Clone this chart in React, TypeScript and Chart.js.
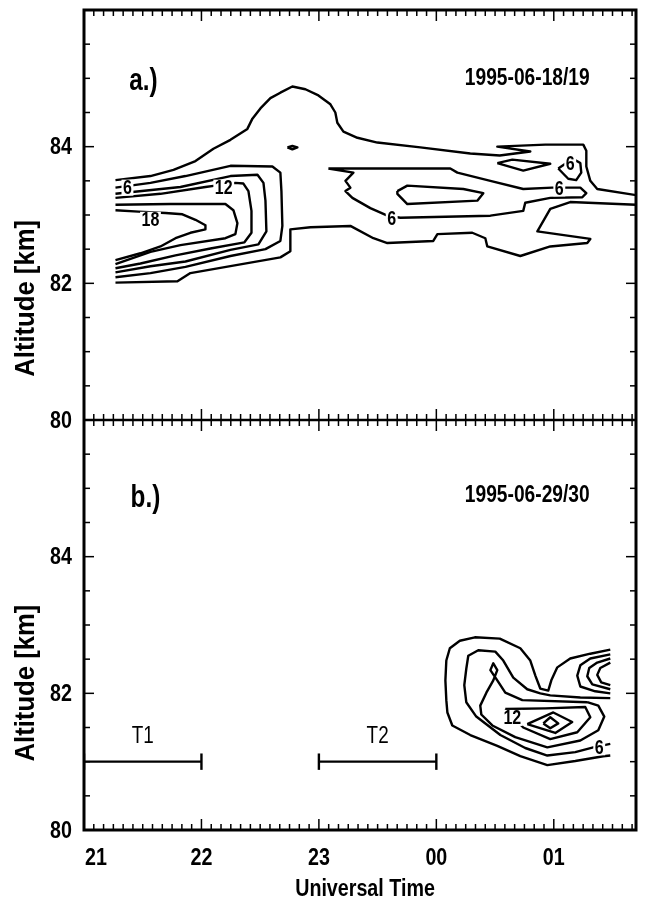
import React, { useEffect, useRef } from 'react';
import { Chart, registerables } from 'chart.js';

Chart.register(...registerables);

type P = [number, number];
type Lbl = [string, number, number];

// ---- axes ----
const X_MIN = 21;
const X_MAX = 25.7;
const X_TICK_VALUES = [21, 22, 23, 24, 25];
const X_TICK_LABELS = ['21', '22', '23', '00', '01'];
const ALT_MIN = 80;
const ALT_MAX = 86;
const ALT_LABELS = [80, 82, 84];

// ---- panel a (1995-06-18/19) contour lines [UT hour, altitude km] ----
const A_OUTER_TOP: P[] = [[21.268,83.51],[21.566,83.57],[21.762,83.66],[21.949,83.79],[22.102,83.97],[22.247,84.10],[22.391,84.26],[22.434,84.41],[22.502,84.56],[22.587,84.71],[22.672,84.79],[22.774,84.88],[22.885,84.84],[22.996,84.75],[23.098,84.62],[23.140,84.50],[23.157,84.35],[23.209,84.22],[23.328,84.13],[23.498,84.06],[23.864,83.99],[24.289,83.90],[24.540,83.87],[24.800,83.93],[24.519,84.00],[24.928,84.03],[25.251,84.03],[25.277,83.94],[25.277,83.71],[25.311,83.50],[25.370,83.38],[25.702,83.29]];
const A_OUTER_BOTTOM: P[] = [[21.268,82.01],[21.796,82.03],[21.906,82.15],[22.672,82.38],[22.757,82.47],[22.757,82.79],[22.928,82.82],[23.268,82.84],[23.464,82.66],[23.583,82.59],[23.974,82.62],[24.009,82.72],[24.306,82.74],[24.417,82.66],[24.434,82.54],[24.715,82.40],[24.970,82.54],[25.285,82.59],[25.311,82.65],[24.860,82.76],[24.970,83.09],[25.140,83.19],[25.702,83.15]];
const A_C6: P[] = [[21.268,83.40],[21.566,83.47],[21.864,83.57],[22.247,83.72],[22.604,83.71],[22.672,83.62],[22.681,83.35],[22.689,82.84],[22.672,82.62],[22.545,82.50],[22.247,82.40],[21.864,82.24],[21.566,82.15],[21.268,82.09]];
const A_C9: P[] = [[21.268,83.31],[21.821,83.41],[22.247,83.57],[22.477,83.59],[22.528,83.47],[22.545,83.21],[22.553,82.76],[22.485,82.57],[22.247,82.49],[21.864,82.32],[21.566,82.25],[21.268,82.16]];
const A_C12: P[] = [[21.268,83.25],[21.651,83.31],[22.034,83.41],[22.119,83.43],[22.289,83.47],[22.357,83.46],[22.400,83.35],[22.426,83.06],[22.426,82.74],[22.366,82.60],[22.077,82.51],[21.779,82.41],[21.481,82.29],[21.268,82.22]];
const A_C15: P[] = [[21.268,83.15],[21.736,83.16],[22.204,83.16],[22.272,83.07],[22.306,82.88],[22.289,82.72],[22.204,82.66],[21.821,82.56],[21.566,82.46],[21.268,82.28]];
const A_C18: P[] = [[21.268,83.07],[21.464,83.05],[21.694,83.03],[21.838,83.01],[21.949,82.93],[22.034,82.85],[22.034,82.79],[21.906,82.74],[21.779,82.66],[21.651,82.54],[21.481,82.44],[21.268,82.34]];
const A_MID6: P[] = [[23.081,83.68],[24.119,83.68],[24.179,83.62],[24.460,83.50],[24.740,83.38],[24.987,83.40],[25.226,83.40],[25.277,83.32],[25.243,83.26],[24.970,83.25],[24.757,83.18],[24.740,83.06],[24.460,82.99],[23.694,82.96],[23.583,82.99],[23.438,83.10],[23.285,83.25],[23.226,83.35],[23.268,83.40],[23.226,83.50],[23.294,83.62],[23.081,83.68]];
const A_OVAL: P[] = [[23.668,83.35],[23.753,83.43],[24.230,83.38],[24.400,83.32],[24.349,83.21],[23.753,83.16],[23.668,83.31],[23.668,83.35]];
const A_HUMP: P[] = [[22.732,83.99],[22.774,84.01],[22.817,83.99],[22.774,83.96],[22.732,83.99]];
const A_ZDIAMOND: P[] = [[24.519,83.76],[24.740,83.65],[24.970,83.75],[24.647,83.81],[24.519,83.76]];
const A_SMALL6: P[] = [[25.038,83.68],[25.098,83.75],[25.174,83.81],[25.226,83.76],[25.234,83.62],[25.191,83.51],[25.123,83.53],[25.038,83.68]];
const A_LABELS: Lbl[] = [['6',21.370,83.40],['12',22.19,83.40],['18',21.566,82.93],['6',23.62,82.95],['6',25.14,83.76],['6',25.047,83.39]];

// ---- panel b (1995-06-29/30) ----
const B_OUTER: P[] = [[25.481,82.64],[25.311,82.58],[25.140,82.51],[25.030,82.38],[24.979,82.19],[24.953,82.04],[24.885,82.07],[24.843,82.26],[24.800,82.48],[24.715,82.66],[24.540,82.80],[24.328,82.82],[24.200,82.77],[24.115,82.66],[24.085,82.48],[24.077,82.19],[24.085,81.90],[24.094,81.72],[24.136,81.53],[24.289,81.39],[24.519,81.23],[24.715,81.08],[24.945,80.95],[25.183,81.01],[25.421,81.08],[25.481,81.09]];
const B_R1: P[] = [[25.481,82.57],[25.311,82.51],[25.226,82.41],[25.200,82.26],[25.226,82.10],[25.353,82.03],[25.481,82.00]];
const B_R2: P[] = [[25.481,82.51],[25.370,82.45],[25.302,82.37],[25.285,82.25],[25.328,82.13],[25.481,82.06]];
const B_R3: P[] = [[25.481,82.45],[25.396,82.37],[25.370,82.27],[25.404,82.16],[25.481,82.12]];
const B_C6: P[] = [[25.481,81.93],[25.226,81.94],[24.970,81.97],[24.885,82.00],[24.774,82.06],[24.655,82.23],[24.570,82.48],[24.502,82.61],[24.357,82.63],[24.272,82.55],[24.255,82.36],[24.238,82.12],[24.255,81.87],[24.340,81.66],[24.545,81.39],[24.757,81.20],[24.945,81.09],[25.183,81.14],[25.336,81.21],[25.481,81.26]];
const B_C9: P[] = [[25.285,81.87],[24.732,81.90],[24.587,82.01],[24.519,82.19],[24.460,82.34],[24.485,82.44],[24.519,82.34],[24.485,82.19],[24.426,82.01],[24.374,81.82],[24.383,81.69],[24.477,81.53],[24.672,81.36],[24.945,81.21],[25.226,81.31],[25.379,81.46],[25.430,81.66],[25.379,81.82],[25.285,81.87]];
const B_C12: P[] = [[24.587,81.77],[24.928,81.78],[25.268,81.80],[25.311,81.65],[25.200,81.43],[24.970,81.33],[24.740,81.50],[24.587,81.77]];
const B_C15: P[] = [[24.774,81.55],[24.996,81.72],[25.157,81.58],[25.013,81.42],[24.774,81.55]];
const B_C18: P[] = [[24.911,81.56],[24.970,81.65],[25.038,81.56],[24.970,81.49],[24.911,81.56]];
const B_LABELS: Lbl[] = [['12',24.647,81.64],['6',25.387,81.21]];

// ---- observation periods ----
const PERIOD_NAMES = ['T1', 'T2'];
const PERIOD_START = [21, 23];
const PERIOD_END = [22, 24];
const PERIOD_ALT = 81.0;
const PERIOD_LABEL_ALT = 81.37;
const CAP_HALF = 0.12;

// ---- annotations ----
const PANEL_TAGS = ['a.)', 'b.)'];
const PANEL_TAG_POS: P[] = [[21.506, 84.96], [21.523, 84.85]];
const DATES = ['1995-06-18/19', '1995-06-29/30'];
const DATE_POS: P[] = [[24.774, 85.0], [24.774, 84.89]];
const Y_TITLE = 'Altitude [km]';
const Y_TITLE_ALT = [81.78, 82.15];
const X_TITLE = 'Universal Time';

const FONT = "'Liberation Sans', Arial, sans-serif";

const toXY = (pts: P[]) => pts.map(([x, y]) => ({ x, y }));

function lineSet(pts: P[], axis: string) {
  return {
    data: toXY(pts),
    yAxisID: axis,
    borderColor: '#000',
    borderWidth: 2.4,
    borderJoinStyle: 'round',
    pointRadius: 0,
    tension: 0,
    fill: false,
    showLine: true,
  };
}

// condensed text: Liberation Sans squeezed horizontally
function txt(ctx: CanvasRenderingContext2D, s: string, x: number, y: number, font: string, sx: number, align: CanvasTextAlign = 'center', rot = 0) {
  ctx.save();
  ctx.translate(x, y);
  if (rot) ctx.rotate(rot);
  ctx.scale(sx, 1);
  ctx.font = font;
  ctx.textAlign = align;
  ctx.textBaseline = 'middle';
  ctx.fillStyle = '#000';
  ctx.fillText(s, 0, 0);
  ctx.restore();
}

const overlayPlugin = {
  id: 'overlay',
  afterDatasetsDraw(chart: any) {
    const ctx: CanvasRenderingContext2D = chart.ctx;
    const xs = chart.scales.x;
    const yt = chart.scales.yTop;
    const yb = chart.scales.yBot;
    const area = chart.chartArea;
    const seg = (x1: number, y1: number, x2: number, y2: number) => {
      ctx.beginPath();
      ctx.moveTo(x1, y1);
      ctx.lineTo(x2, y2);
      ctx.stroke();
    };
    ctx.save();
    ctx.fillStyle = '#000';
    ctx.strokeStyle = '#000';

    // contour labels with white gaps
    const lf = `bold 20px ${FONT}`;
    const drawLabels = (list: Lbl[], s: any) => {
      for (const [t, x, y] of list) {
        const px = xs.getPixelForValue(x);
        const py = s.getPixelForValue(y);
        ctx.font = lf;
        const w = ctx.measureText(t).width * 0.8 + 3;
        ctx.fillStyle = '#fff';
        ctx.fillRect(px - w / 2, py - 8, w, 16);
        txt(ctx, t, px, py + 1, lf, 0.8);
      }
    };
    drawLabels(A_LABELS, yt);
    drawLabels(B_LABELS, yb);

    // observation period labels
    PERIOD_NAMES.forEach((n, i) => {
      const px = xs.getPixelForValue((PERIOD_START[i] + PERIOD_END[i]) / 2);
      txt(ctx, n, px, yb.getPixelForValue(PERIOD_LABEL_ALT), `23px ${FONT}`, 0.82);
    });

    // panel tags, dates, y titles, y tick labels
    [yt, yb].forEach((s, i) => {
      txt(ctx, PANEL_TAGS[i], xs.getPixelForValue(PANEL_TAG_POS[i][0]), s.getPixelForValue(PANEL_TAG_POS[i][1]), `bold 32px ${FONT}`, 0.76);
      txt(ctx, DATES[i], xs.getPixelForValue(DATE_POS[i][0]), s.getPixelForValue(DATE_POS[i][1]), `bold 24px ${FONT}`, 0.8);
      txt(ctx, Y_TITLE, 27, s.getPixelForValue(Y_TITLE_ALT[i]), `bold 27px ${FONT}`, 0.95, 'center', -Math.PI / 2);
      ALT_LABELS.forEach((v) => {
        txt(ctx, String(v), area.left - 12, s.getPixelForValue(v) + 1, `bold 24px ${FONT}`, 0.82, 'right');
      });
    });

    // x tick labels and title
    X_TICK_VALUES.forEach((v, i) => {
      const px = xs.getPixelForValue(v);
      txt(ctx, X_TICK_LABELS[i], i === 0 ? px + 1 : px, area.bottom + 28, `bold 24px ${FONT}`, 0.82, i === 0 ? 'left' : 'center');
    });
    txt(ctx, X_TITLE, (area.left + area.right) / 2 + 5, area.bottom + 59, `bold 24px ${FONT}`, 0.82);

    // frame
    ctx.lineWidth = 3;
    ctx.strokeRect(area.left, area.top, area.right - area.left, area.bottom - area.top);
    const mid = yt.bottom;
    ctx.lineWidth = 2.5;
    seg(area.left, mid, area.right, mid);

    // x ticks (every 5 minutes)
    ctx.lineWidth = 1.5;
    const nX = Math.floor((X_MAX - X_MIN) * 12 + 1e-6);
    for (let k = 0; k <= nX; k++) {
      const px = xs.getPixelForValue(X_MIN + k / 12);
      const len = k % 12 === 0 ? 11 : 6;
      seg(px, area.top, px, area.top + len);
      seg(px, mid - len, px, mid + len);
      seg(px, area.bottom, px, area.bottom - len);
    }
    // y ticks (every 0.5 km)
    for (const s of [yt, yb]) {
      for (let k = 1; k < (ALT_MAX - ALT_MIN) * 2; k++) {
        const v = ALT_MIN + k / 2;
        const py = s.getPixelForValue(v);
        const len = k % 4 === 0 ? 10 : 6;
        seg(area.left, py, area.left + len, py);
        seg(area.right, py, area.right - len, py);
      }
    }
    ctx.restore();
  },
};

export default function App() {
  const ref = useRef<HTMLCanvasElement | null>(null);
  useEffect(() => {
    if (!ref.current) return;
    const datasets: any[] = [];
    [A_OUTER_TOP, A_OUTER_BOTTOM, A_C6, A_C9, A_C12, A_C15, A_C18, A_MID6, A_OVAL, A_HUMP, A_ZDIAMOND, A_SMALL6]
      .forEach((p) => datasets.push(lineSet(p, 'yTop')));
    [B_OUTER, B_R1, B_R2, B_R3, B_C6, B_C9, B_C12, B_C15, B_C18]
      .forEach((p) => datasets.push(lineSet(p, 'yBot')));
    PERIOD_NAMES.forEach((_, i) => {
      datasets.push(lineSet([[PERIOD_START[i], PERIOD_ALT], [PERIOD_END[i], PERIOD_ALT]], 'yBot'));
      datasets.push(lineSet([[PERIOD_START[i], PERIOD_ALT - CAP_HALF], [PERIOD_START[i], PERIOD_ALT + CAP_HALF]], 'yBot'));
      datasets.push(lineSet([[PERIOD_END[i], PERIOD_ALT - CAP_HALF], [PERIOD_END[i], PERIOD_ALT + CAP_HALF]], 'yBot'));
    });

    const yScale = (weight: number) => ({
      type: 'linear',
      position: 'left',
      stack: 'alt',
      stackWeight: 1,
      weight,
      min: ALT_MIN,
      max: ALT_MAX,
      afterFit: (s: any) => {
        s.width = 84;
      },
      grid: { display: false, drawTicks: false },
      border: { display: false },
      ticks: { display: false, stepSize: 2 },
    });

    const chart = new Chart(ref.current, {
      type: 'scatter',
      data: { datasets },
      plugins: [overlayPlugin],
      options: {
        animation: false,
        responsive: false,
        devicePixelRatio: 1,
        layout: { padding: { top: 10, right: 9, left: 0, bottom: 0 } },
        plugins: { legend: { display: false }, tooltip: { enabled: false } },
        scales: {
          x: {
            type: 'linear',
            min: X_MIN,
            max: X_MAX,
            afterFit: (s: any) => {
              s.height = 74;
            },
            grid: { display: false, drawTicks: false },
            border: { display: false },
            ticks: { display: false },
            title: { display: false },
          },
          yBot: yScale(0),
          yTop: yScale(1),
        } as any,
      },
    } as any);
    return () => chart.destroy();
  }, []);

  return (
    <div style={{ position: 'absolute', left: 0, top: 0, width: 645, height: 904, background: '#fff' }}>
      <canvas ref={ref} width={645} height={904} style={{ display: 'block' }} />
    </div>
  );
}
